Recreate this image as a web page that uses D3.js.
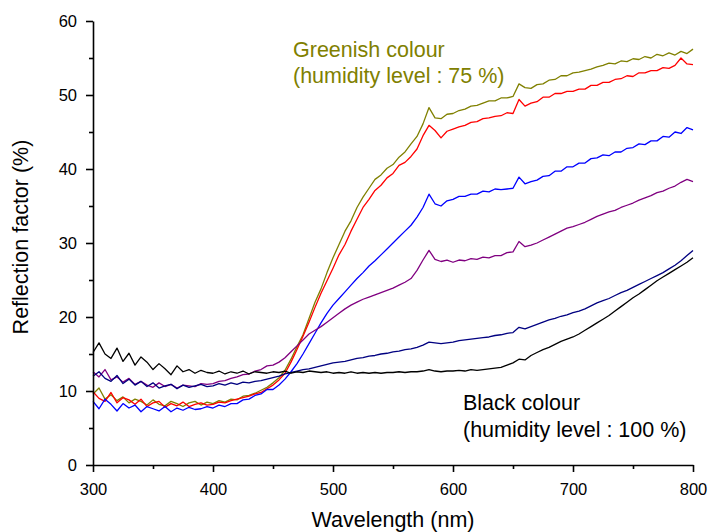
<!DOCTYPE html>
<html lang="en">
<head>
    <meta charset="UTF-8">
    <title>Reflection factor vs wavelength</title>
    <style>
        body { margin: 0; background: #fff; }
        text { font-family: "Liberation Sans", Arial, sans-serif; }
    </style>
</head>
<body>
<script src="https://cdn.jsdelivr.net/npm/d3@7/dist/d3.min.js"></script>
<script>
    // wavelengths (nm), one sample every 5 nm
    const wavelength = [
        300, 305, 310, 315, 320, 325, 330, 335, 340, 345, 350, 355, 360, 365, 370, 375, 380, 385, 390, 395,
        400, 405, 410, 415, 420, 425, 430, 435, 440, 445, 450, 455, 460, 465, 470, 475, 480, 485, 490, 495,
        500, 505, 510, 515, 520, 525, 530, 535, 540, 545, 550, 555, 560, 565, 570, 575, 580, 585, 590, 595,
        600, 605, 610, 615, 620, 625, 630, 635, 640, 645, 650, 655, 660, 665, 670, 675, 680, 685, 690, 695,
        700, 705, 710, 715, 720, 725, 730, 735, 740, 745, 750, 755, 760, 765, 770, 775, 780, 785, 790, 795, 800
    ];

    // reflection factor (%)
    const olive = [
        9.6, 10.4, 8.9, 9.5, 8.7, 9.2, 8.4, 8.9, 8.6, 8.1, 8.8, 8.2, 8.0, 8.6, 8.3, 7.9, 8.4, 8.6, 8.1, 8.5,
        8.3, 8.7, 8.5, 8.9, 8.8, 9.3, 9.4, 9.7, 10.1, 10.5, 11.1, 11.8, 12.8, 14.3, 16.0, 17.6, 19.8, 22.0, 23.8, 26.0,
        28.0, 29.8, 31.6, 33.0, 34.8, 36.2, 37.4, 38.6, 39.2, 40.1, 40.6, 41.6, 42.3, 43.4, 44.4, 46.1, 48.3, 46.9, 46.8, 47.4,
        47.5, 47.9, 48.1, 48.5, 48.6, 48.9, 49.2, 49.2, 49.6, 49.6, 49.8, 51.5, 51.0, 50.9, 51.4, 51.5, 52.0, 52.1, 52.6, 52.6,
        53.0, 53.1, 53.3, 53.5, 53.8, 54.0, 54.3, 54.2, 54.6, 54.5, 54.9, 54.8, 55.2, 55.0, 55.5, 55.3, 55.7, 55.4, 55.9, 55.6, 56.2
    ];
    const red = [
        9.9, 9.0, 8.6, 9.8, 8.4, 9.1, 8.8, 8.2, 8.9, 7.9, 8.4, 8.6, 7.8, 8.3, 8.0, 8.5, 7.9, 8.2, 8.4, 8.1,
        8.2, 8.5, 8.4, 8.7, 8.9, 9.1, 9.3, 9.6, 9.8, 10.3, 10.8, 11.5, 12.4, 13.9, 15.6, 17.4, 19.3, 21.3, 23.2, 24.9,
        26.6, 28.4, 29.8, 31.6, 33.2, 34.8, 35.9, 37.1, 37.8, 38.8, 39.4, 40.5, 40.9, 41.7, 42.7, 44.5, 45.9, 45.2, 44.2, 45.1,
        45.4, 45.7, 45.9, 46.3, 46.4, 46.8, 46.9, 47.1, 47.2, 47.6, 47.5, 49.4, 48.5, 48.9, 49.1, 49.7, 49.7, 50.2, 50.2, 50.5,
        50.5, 50.8, 50.8, 51.3, 51.3, 51.7, 51.7, 52.1, 52.2, 52.6, 52.5, 53.0, 53.0, 53.3, 53.3, 53.7, 53.6, 54.0, 55.0, 54.2, 54.1
    ];
    const blue = [
        8.6, 7.6, 8.9, 8.2, 7.3, 8.3, 7.7, 8.1, 7.2, 7.9, 7.6, 7.3, 7.9, 7.2, 7.7, 7.4, 7.8, 7.5, 7.6, 7.9,
        7.7, 8.1, 7.9, 8.3, 8.3, 8.8, 8.9, 9.4, 9.6, 10.2, 10.2, 10.8, 11.6, 12.6, 13.7, 15.0, 16.4, 17.8, 19.2, 20.5,
        21.6, 22.5, 23.4, 24.3, 25.2, 26.0, 26.9, 27.6, 28.4, 29.2, 30.0, 30.8, 31.6, 32.4, 33.5, 34.8, 36.6, 35.3, 35.0, 35.7,
        35.9, 36.3, 36.3, 36.6, 36.6, 37.0, 36.9, 37.3, 37.2, 37.3, 37.4, 38.9, 38.0, 38.3, 38.5, 39.0, 39.1, 39.7, 39.7, 40.3,
        40.3, 40.8, 40.8, 41.4, 41.5, 41.9, 41.8, 42.3, 42.3, 42.8, 42.9, 43.4, 43.3, 43.8, 43.8, 44.4, 44.3, 45.0, 44.8, 45.6, 45.3
    ];
    const purple = [
        12.6, 11.9, 12.9, 11.5, 11.9, 11.2, 11.7, 10.9, 11.3, 10.8, 10.5, 11.1, 10.6, 10.9, 10.4, 10.8, 10.7, 10.6, 11.0, 10.9,
        11.0, 11.3, 11.4, 11.7, 11.9, 12.2, 12.3, 12.7, 12.9, 13.4, 13.5, 13.9, 14.5, 15.3, 16.1, 16.9, 17.7, 18.2, 18.7, 19.3,
        19.9, 20.5, 21.1, 21.6, 22.0, 22.4, 22.7, 23.0, 23.3, 23.6, 23.9, 24.3, 24.7, 25.2, 26.3, 27.7, 29.0, 27.8, 27.5, 27.7,
        27.4, 27.7, 27.6, 27.9, 27.8, 28.1, 28.0, 28.3, 28.3, 28.7, 28.8, 30.2, 29.5, 29.7, 30.0, 30.4, 30.8, 31.2, 31.6, 32.0,
        32.2, 32.5, 32.8, 33.2, 33.6, 33.9, 34.2, 34.4, 34.8, 35.1, 35.4, 35.8, 36.1, 36.4, 36.8, 37.0, 37.4, 37.7, 38.2, 38.6, 38.3
    ];
    const navy = [
        12.0, 12.6, 11.7, 11.3, 12.1, 11.0, 11.6, 10.8, 11.3, 10.6, 11.1, 10.4, 10.7, 10.9, 10.3, 10.8, 10.5, 10.7, 10.9, 10.6,
        10.7, 11.0, 10.8, 11.1, 10.9, 11.2, 11.1, 11.3, 11.4, 11.6, 11.8, 12.0, 12.3, 12.5, 12.7, 12.9, 13.0, 13.2, 13.4, 13.6,
        13.8, 13.9, 14.0, 14.2, 14.4, 14.5, 14.7, 14.8, 15.0, 15.1, 15.3, 15.4, 15.6, 15.7, 15.9, 16.2, 16.6, 16.5, 16.4, 16.5,
        16.6, 16.8, 16.9, 17.0, 17.1, 17.2, 17.3, 17.5, 17.6, 17.8, 17.9, 18.6, 18.4, 18.7, 19.0, 19.3, 19.6, 19.8, 20.1, 20.3,
        20.6, 20.8, 21.1, 21.5, 21.9, 22.2, 22.5, 22.9, 23.3, 23.6, 24.0, 24.4, 24.8, 25.2, 25.6, 26.0, 26.5, 27.0, 27.6, 28.3, 29.0
    ];
    const black = [
        15.2, 16.5, 15.0, 14.4, 15.8, 14.0, 15.1, 13.5, 14.6, 13.9, 12.9, 13.7, 13.0, 12.2, 13.4, 12.6, 12.9, 12.4, 12.8, 12.5,
        12.4, 12.7, 12.3, 12.6, 12.4, 12.7, 12.3, 12.6, 12.5, 12.4, 12.6, 12.5, 12.7, 12.4, 12.6, 12.5, 12.7, 12.6, 12.5, 12.6,
        12.4, 12.5, 12.4, 12.6, 12.4, 12.5, 12.4, 12.5, 12.4, 12.5, 12.5, 12.6, 12.5, 12.6, 12.6, 12.7, 12.9, 12.7, 12.6, 12.7,
        12.7, 12.8, 12.7, 12.9, 12.8, 12.9, 13.0, 13.1, 13.2, 13.5, 13.8, 14.3, 14.2, 14.8, 15.2, 15.6, 15.9, 16.3, 16.7, 17.0,
        17.3, 17.7, 18.2, 18.7, 19.2, 19.7, 20.2, 20.8, 21.4, 22.0, 22.6, 23.1, 23.7, 24.3, 24.9, 25.4, 25.9, 26.4, 26.9, 27.4, 28.0
    ];

    const seriesNames = ["olive", "red", "blue", "purple", "navy", "black"];
    const seriesValues = [olive, red, blue, purple, navy, black];
    const seriesColors = ["#808000", "#ff0000", "#0000ff", "#800080", "#000080", "#000000"];

    const xTicks = [300, 400, 500, 600, 700, 800];
    const xMinorTicks = [350, 450, 550, 650, 750];
    const yTicks = [0, 10, 20, 30, 40, 50, 60];
    const yMinorTicks = [5, 15, 25, 35, 45, 55];

    var margin = {top: 21, right: 17, bottom: 67, left: 93},
        width = 710 - margin.left - margin.right,
        height = 532 - margin.top - margin.bottom;

    var xScale = d3.scaleLinear().domain([300, 800]).range([0, width]);
    var yScale = d3.scaleLinear().domain([0, 60]).range([height, 0]);

    var svg = d3.select("body").append("svg")
        .attr("width", 710)
        .attr("height", 532);
    var g = svg.append("g")
        .attr("transform", `translate(${margin.left},${margin.top})`);

    // curves
    var line = d3.line()
        .x((d, i) => xScale(wavelength[i]))
        .y(d => yScale(d));

    g.append("g")
        .selectAll("path")
        .data(seriesValues)
        .join("path")
            .attr("class", (d, i) => "curve " + seriesNames[i])
            .attr("fill", "none")
            .attr("stroke", (d, i) => seriesColors[i])
            .attr("stroke-width", 1.3)
            .attr("stroke-linejoin", "round")
            .attr("d", line);

    // minor ticks first, then the main axes over them
    g.append("g")
        .attr("transform", `translate(0,${height})`)
        .call(d3.axisBottom(xScale).tickValues(xMinorTicks).tickSize(4).tickSizeOuter(0).tickFormat(""))
        .call(a => a.select(".domain").remove());
    g.append("g")
        .call(d3.axisLeft(yScale).tickValues(yMinorTicks).tickSize(4).tickSizeOuter(0).tickFormat(""))
        .call(a => a.select(".domain").remove());

    var xAxis = g.append("g")
        .attr("transform", `translate(0,${height})`)
        .call(d3.axisBottom(xScale).tickValues(xTicks).tickSize(7).tickSizeOuter(0).tickPadding(11).tickFormat(d3.format("d")));
    var yAxis = g.append("g")
        .call(d3.axisLeft(yScale).tickValues(yTicks).tickSize(7).tickSizeOuter(0).tickPadding(9).tickFormat(d3.format("d")));

    g.selectAll(".tick line, .domain").attr("stroke", "#000").attr("stroke-width", 1.6);
    [xAxis, yAxis].forEach(a => a.selectAll("text")
        .attr("fill", "#000")
        .style("font-family", "'Liberation Sans', Arial, sans-serif")
        .style("font-size", "16.5px"));

    // axis titles
    svg.append("text")
        .attr("x", margin.left + width / 2)
        .attr("y", 527)
        .attr("text-anchor", "middle")
        .style("font-size", "21.5px")
        .text("Wavelength (nm)");
    svg.append("text")
        .attr("transform", "translate(28,237) rotate(-90)")
        .attr("text-anchor", "middle")
        .style("font-size", "21.5px")
        .text("Reflection factor (%)");

    // annotations
    var green = svg.append("text").attr("fill", "#808000").style("font-size", "21.5px");
    green.append("tspan").attr("x", 293).attr("y", 57).text("Greenish colour");
    green.append("tspan").attr("x", 293).attr("y", 83).text("(humidity level : 75 %)");

    var blk = svg.append("text").attr("fill", "#000").style("font-size", "21.5px");
    blk.append("tspan").attr("x", 463).attr("y", 410).text("Black colour");
    blk.append("tspan").attr("x", 463).attr("y", 437).text("(humidity level : 100 %)");
</script>
</body>
</html>
